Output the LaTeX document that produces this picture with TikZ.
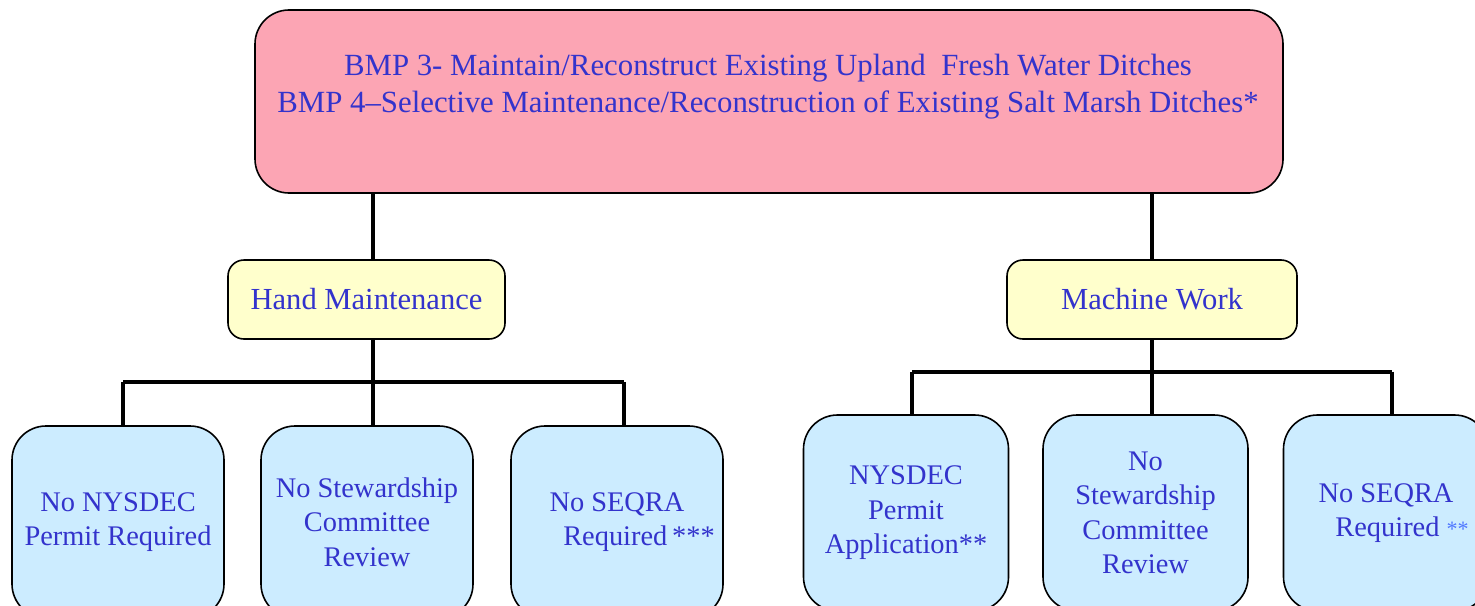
\documentclass[tikz,border=0pt]{standalone}
\usepackage{fontspec}
\setmainfont{Liberation Serif}
\definecolor{bmpblue}{RGB}{51,51,204}
\definecolor{bmppink}{RGB}{252,165,180}
\definecolor{bmpyellow}{RGB}{255,255,204}
\definecolor{bmpcyan}{RGB}{204,236,255}
\definecolor{starblue}{RGB}{80,120,255}

\begin{document}
\begin{tikzpicture}[
    x=0.5pt, y=-0.5pt,
    topnode/.style={rectangle, rounded corners=17pt, draw=black, fill=bmppink, line width=0.8pt, minimum width=514pt, minimum height=91.5pt},
    midnode/.style={rectangle, rounded corners=8pt, draw=black, fill=bmpyellow, line width=0.8pt, minimum height=39.5pt, text=bmpblue, font=\fontsize{15.3}{17.5}\selectfont},
    leafnode/.style={rectangle, rounded corners=17pt, draw=black, fill=bmpcyan, line width=0.8pt, minimum width=106pt, minimum height=96pt, text=bmpblue, align=center, font=\fontsize{14.2}{17.25}\selectfont},
    link/.style={line width=2pt}
    ]
    \useasboundingbox (0,0) rectangle (1475,605);
    \clip (0,0) rectangle (1475,605);

    %Nodes
    \node[topnode] (bmp) at (769,101.5) {};
    \node[text=bmpblue, align=center, font=\fontsize{15.4}{18.5}\selectfont] (bmptext) at (768,86.5)
        {BMP 3- Maintain/Reconstruct Existing Upland\ \ Fresh Water Ditches\\BMP 4--Selective Maintenance/Reconstruction of Existing Salt Marsh Ditches*};
    \node[midnode, minimum width=138.5pt] (hand) at (366.5,299.5) {Hand Maintenance};
    \node[midnode, minimum width=145pt] (machine) at (1152,299.5) {Machine Work};

    \node[leafnode] (nopermit) at (118,522) {No NYSDEC\\Permit Required};
    \node[leafnode] (nosteward) at (367,522) {No Stewardship\\Committee\\Review};
    \node[leafnode] (noseqra) at (617,522) {No SEQRA\\\hspace*{22pt}Required\,***};
    \node[leafnode, minimum width=102.5pt, minimum height=98pt] (permit) at (906,513) {NYSDEC\\Permit\\Application**};
    \node[leafnode, minimum width=102.5pt, minimum height=98pt] (nosteward2) at (1145.5,513) {No\\Stewardship\\Committee\\Review};
    \node[leafnode, minimum width=102.5pt, minimum height=98pt] (noseqra2) at (1386,513) {No SEQRA\\\hspace*{16pt}Required\ {\color{starblue}\fontsize{11}{12}\selectfont **}};

    %Lines
    \coordinate (hx) at (373,0);
    \coordinate (mx) at (1152,0);
    \coordinate (hbar) at (373,382);
    \coordinate (mbar) at (1152,371.5);
    \draw[link] (bmp.south -| hx) -- (hand.north -| hx);
    \draw[link] (bmp.south -| mx) -- (machine.north -| mx);
    \draw[link] (hand.south -| hbar) -- (hbar);
    \draw[link] (machine.south -| mbar) -- (mbar);
    \draw[link] (123,382) -- (624,382);
    \draw[link] (912,371.5) -- (1392,371.5);
    \draw[link] (123,382) -- (nopermit.north -| 123,0);
    \draw[link] (hbar) -- (nosteward.north -| hbar);
    \draw[link] (624,382) -- (noseqra.north -| 624,0);
    \draw[link] (912,371.5) -- (permit.north -| 912,0);
    \draw[link] (mbar) -- (nosteward2.north -| mbar);
    \draw[link] (1392,371.5) -- (noseqra2.north -| 1392,0);
\end{tikzpicture}
\end{document}
